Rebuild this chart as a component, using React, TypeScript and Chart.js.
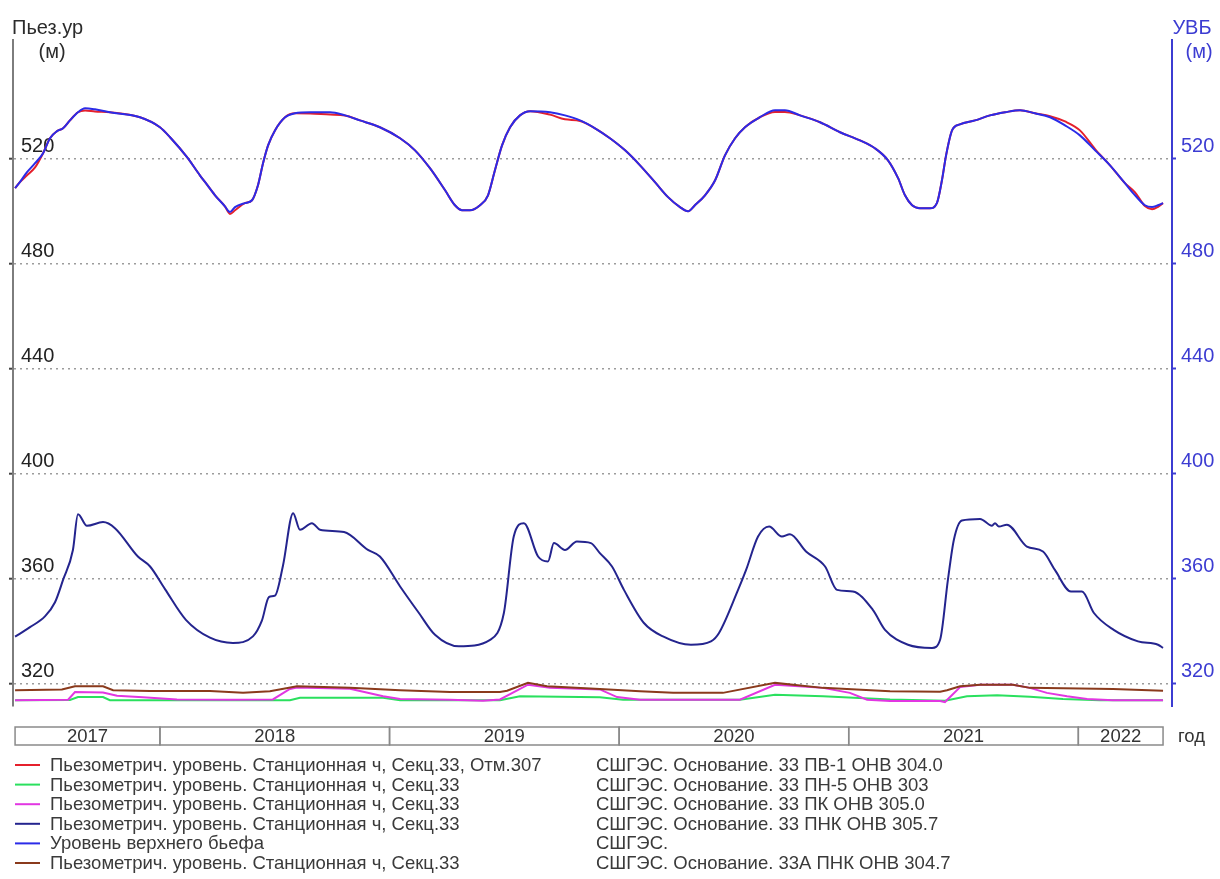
import React, { useEffect, useRef } from "react";
import { Chart, registerables } from "chart.js";

Chart.register(...registerables);

const FONT = '"Liberation Sans", Arial, Helvetica, sans-serif';

// Shared level range of both vertical axes, metres
const levelMin = 311.5;
const levelMax = 565;
const levelTicks = [320, 360, 400, 440, 480, 520];

// Time axis, decimal years
const timeMin = 2017.36;
const timeMax = 2022.408;
const periodStart = 2017.369;
const periodEnd = 2022.369;
const yearLabels = [2017, 2018, 2019, 2020, 2021, 2022];

// Headwater level (УВБ) and the ПВ-1 piezometer share the same sampling dates
const topTimes = [
  2017.369, 2017.390, 2017.421, 2017.456, 2017.491, 2017.521, 2017.552, 2017.578, 2017.608, 2017.643,
  2017.674, 2017.717, 2017.782, 2017.913, 2018.000, 2018.044, 2018.118, 2018.174, 2018.196, 2018.240,
  2018.283, 2018.305, 2018.327, 2018.370, 2018.401, 2018.427, 2018.449, 2018.471, 2018.501, 2018.545,
  2018.588, 2018.654, 2018.741, 2018.806, 2018.871, 2018.958, 2019.046, 2019.111, 2019.176, 2019.242,
  2019.285, 2019.316, 2019.350, 2019.394, 2019.429, 2019.459, 2019.490, 2019.525, 2019.568, 2019.612,
  2019.699, 2019.764, 2019.830, 2019.895, 2019.960, 2020.026, 2020.091, 2020.156, 2020.213, 2020.265,
  2020.300, 2020.330, 2020.374, 2020.418, 2020.461, 2020.505, 2020.548, 2020.613, 2020.679, 2020.722,
  2020.788, 2020.875, 2020.962, 2021.049, 2021.114, 2021.171, 2021.215, 2021.245, 2021.276, 2021.310,
  2021.354, 2021.384, 2021.406, 2021.424, 2021.450, 2021.484, 2021.550, 2021.615, 2021.681, 2021.746,
  2021.811, 2021.877, 2021.942, 2022.007, 2022.073, 2022.138, 2022.203, 2022.247, 2022.290, 2022.321,
  2022.347, 2022.369,
];

const uvbValues = [
  508.6, 510.9, 514.7, 518.1, 521.9, 527.6, 530.3, 531.4, 534.4, 537.5,
  539.0, 538.6, 537.5, 535.6, 531.8, 528.0, 520.4, 513.5, 511.0, 505.9,
  501.7, 499.5, 501.4, 502.9, 504.0, 509.7, 518.1, 524.9, 530.6, 535.6,
  537.1, 537.5, 537.5, 536.3, 534.4, 531.8, 527.6, 523.0, 516.2, 507.8,
  502.1, 500.2, 500.2, 502.1, 505.9, 515.4, 524.9, 531.8, 536.3, 537.9,
  537.5, 536.3, 534.4, 531.4, 527.6, 523.0, 517.3, 510.9, 505.2, 501.4,
  499.8, 502.1, 505.9, 511.6, 521.1, 527.6, 531.8, 535.6, 538.3, 538.3,
  536.3, 533.7, 529.9, 526.8, 523.8, 519.2, 512.4, 505.9, 502.1, 501.0,
  501.0, 502.9, 511.6, 521.1, 530.6, 532.9, 534.4, 536.3, 537.5, 538.3,
  537.1, 535.6, 532.5, 528.7, 523.0, 517.3, 510.5, 505.9, 502.1, 501.4,
  502.1, 502.9,
];

const pv1Values = [
  508.6, 510.9, 513.5, 516.5, 521.9, 527.6, 530.3, 531.4, 534.4, 537.5,
  538.2, 537.8, 537.5, 535.6, 531.8, 528.0, 520.4, 513.5, 511.0, 505.9,
  501.7, 498.8, 500.2, 502.9, 504.0, 509.7, 518.1, 524.9, 530.6, 535.6,
  537.1, 537.0, 536.6, 536.3, 534.4, 531.8, 527.6, 523.0, 516.2, 507.8,
  502.1, 500.2, 500.2, 502.1, 505.9, 515.4, 524.9, 531.8, 536.3, 537.9,
  536.6, 534.8, 534.2, 531.4, 527.6, 523.0, 517.3, 510.9, 505.2, 501.4,
  499.8, 502.1, 505.9, 511.6, 521.1, 527.6, 531.8, 535.6, 537.6, 537.6,
  536.3, 533.7, 529.9, 526.8, 523.8, 519.2, 512.4, 505.9, 502.1, 501.0,
  501.0, 502.9, 511.6, 521.1, 530.6, 532.9, 534.4, 536.3, 537.5, 538.3,
  537.1, 536.0, 534.0, 530.6, 523.5, 517.3, 510.5, 507.0, 501.8, 500.6,
  501.5, 502.9,
];

// 33 ПНК ОНВ 305.7
const pnkTimes = [
  2017.369, 2017.434, 2017.499, 2017.543, 2017.578, 2017.621, 2017.643, 2017.682, 2017.752, 2017.804,
  2017.904, 2017.957, 2018.022, 2018.113, 2018.218, 2018.318, 2018.405, 2018.444, 2018.475, 2018.501,
  2018.536, 2018.580, 2018.610, 2018.662, 2018.697, 2018.802, 2018.906, 2018.958, 2019.046, 2019.128,
  2019.198, 2019.302, 2019.438, 2019.498, 2019.541, 2019.585, 2019.647, 2019.690, 2019.716, 2019.764,
  2019.816, 2019.877, 2019.916, 2019.969, 2020.021, 2020.108, 2020.191, 2020.313, 2020.400, 2020.435,
  2020.518, 2020.553, 2020.605, 2020.653, 2020.709, 2020.744, 2020.814, 2020.897, 2020.949, 2021.018,
  2021.105, 2021.158, 2021.258, 2021.363, 2021.398, 2021.432, 2021.458, 2021.493, 2021.572, 2021.624,
  2021.637, 2021.654, 2021.689, 2021.776, 2021.846, 2021.898, 2021.968, 2022.016, 2022.068, 2022.154,
  2022.260, 2022.347, 2022.369,
];
const pnkValues = [
  337.9, 341.5, 345.6, 351.0, 359.5, 370.9, 384.5, 380.1, 381.5, 379.2,
  368.4, 364.6, 356.0, 344.3, 337.5, 335.5, 338.0, 344.0, 353.0, 353.5,
  365.0, 384.9, 378.6, 381.1, 378.6, 377.7, 370.9, 368.4, 357.0, 346.9,
  338.6, 334.2, 336.7, 346.9, 376.0, 381.1, 368.4, 366.5, 373.5, 370.9,
  374.1, 373.5, 369.7, 364.6, 355.7, 343.1, 338.0, 334.8, 336.1, 339.3,
  355.7, 363.3, 376.0, 379.8, 376.0, 376.9, 370.3, 364.6, 355.7, 355.1,
  348.1, 340.5, 334.8, 333.6, 336.7, 359.5, 374.8, 382.1, 382.7, 380.1,
  381.1, 379.8, 380.5, 372.2, 370.3, 363.3, 355.1, 355.1, 346.9, 340.5,
  336.1, 334.8, 333.6,
];

// 33А ПНК ОНВ 304.7
const pnkATimes = [
  2017.369, 2017.573, 2017.630, 2017.752, 2017.796, 2017.957, 2018.218, 2018.362, 2018.479, 2018.597,
  2018.828, 2019.046, 2019.263, 2019.481, 2019.512, 2019.603, 2019.686, 2019.916, 2020.091, 2020.235,
  2020.452, 2020.679, 2020.888, 2021.180, 2021.398, 2021.428, 2021.485, 2021.572, 2021.715, 2021.789,
  2022.151, 2022.369,
];
const pnkAValues = [
  317.5, 317.8, 319.0, 319.0, 317.5, 317.2, 317.2, 316.5, 317.1, 319.0,
  318.4, 317.5, 316.8, 316.8, 317.3, 320.3, 319.0, 318.0, 317.1, 316.5,
  316.5, 320.3, 318.4, 317.1, 316.9, 317.5, 319.0, 319.6, 319.6, 318.4,
  318.0, 317.3,
];

// 33 ПК ОНВ 305.0
const pkTimes = [
  2017.369, 2017.600, 2017.630, 2017.752, 2017.813, 2017.926, 2018.074, 2018.305, 2018.492, 2018.566,
  2018.597, 2018.828, 2018.972, 2019.046, 2019.263, 2019.407, 2019.481, 2019.603, 2019.699, 2019.916,
  2019.991, 2020.091, 2020.526, 2020.679, 2020.888, 2021.005, 2021.080, 2021.180, 2021.398, 2021.419,
  2021.485, 2021.572, 2021.715, 2021.789, 2021.863, 2021.951, 2022.038, 2022.151, 2022.369,
];
const pkValues = [
  313.7, 313.9, 316.8, 316.6, 315.4, 314.8, 314.0, 313.9, 314.0, 318.0,
  318.5, 318.1, 315.2, 314.2, 313.9, 313.5, 314.0, 319.6, 318.4, 317.8,
  314.9, 313.9, 313.9, 319.6, 318.4, 316.5, 313.9, 313.4, 313.4, 313.0,
  318.7, 319.6, 319.6, 318.4, 316.5, 315.2, 314.2, 313.7, 313.7,
];

// 33 ПН-5 ОНВ 303
const pn5Times = [
  2017.369, 2017.608, 2017.643, 2017.752, 2017.782, 2018.566, 2018.610, 2018.972, 2019.046, 2019.481,
  2019.568, 2019.916, 2020.017, 2020.526, 2020.679, 2020.888, 2021.180, 2021.419, 2021.515, 2021.646,
  2021.789, 2021.933, 2022.094, 2022.369,
];
const pn5Values = [
  313.7, 313.8, 314.9, 314.9, 313.7, 313.7, 314.6, 314.6, 313.7, 313.7,
  315.2, 314.8, 313.9, 313.9, 315.8, 315.2, 314.0, 313.5, 315.2, 315.6,
  315.0, 314.2, 313.7, 313.7,
];

const seriesLabels = [
  "Пьезометрич. уровень. Станционная ч, Секц.33, Отм.307",
  "Пьезометрич. уровень. Станционная ч, Секц.33",
  "Пьезометрич. уровень. Станционная ч, Секц.33",
  "Пьезометрич. уровень. Станционная ч, Секц.33",
  "Уровень верхнего бьефа",
  "Пьезометрич. уровень. Станционная ч, Секц.33",
];
const seriesSources = [
  "СШГЭС. Основание. 33 ПВ-1 ОНВ 304.0",
  "СШГЭС. Основание. 33 ПН-5 ОНВ 303",
  "СШГЭС. Основание. 33 ПК ОНВ 305.0",
  "СШГЭС. Основание. 33 ПНК ОНВ 305.7",
  "СШГЭС.",
  "СШГЭС. Основание. 33А ПНК ОНВ 304.7",
];
const seriesColors = ["#e5202c", "#2ae05e", "#e236e2", "#24248e", "#2b2be8", "#8a3a1c"];

const leftAxisColor = "#7d7d7d";
const rightAxisColor = "#3c3cd2";

const toPoints = (ts: number[], vs: number[]) => ts.map((t, i) => ({ x: t, y: vs[i] }));

const framePlugin = {
  id: "frame",
  afterDraw(chart: any) {
    const { ctx, chartArea } = chart;
    const xs = chart.scales.x;
    ctx.save();

    // axis captions
    ctx.font = `20px ${FONT}`;
    ctx.textBaseline = "middle";
    ctx.fillStyle = "#2b2b2b";
    ctx.textAlign = "left";
    ctx.fillText("Пьез.ур", chartArea.left - 1, 28);
    ctx.textAlign = "center";
    ctx.fillText("(м)", chartArea.left + 39, 52);
    ctx.fillStyle = rightAxisColor;
    ctx.fillText("УВБ", chartArea.right + 20, 28);
    ctx.fillText("(м)", chartArea.right + 27, 52);

    // year strip under the plot
    const stripTop = chartArea.bottom + 21;
    const stripH = 18;
    ctx.strokeStyle = "#8a8a8a";
    ctx.lineWidth = 1.5;
    ctx.font = `18.5px ${FONT}`;
    ctx.fillStyle = "#333";
    yearLabels.forEach((yr) => {
      const a = Math.max(yr, periodStart);
      const b = Math.min(yr + 1, periodEnd);
      if (b <= a) return;
      const x0 = xs.getPixelForValue(a);
      const x1 = xs.getPixelForValue(b);
      ctx.strokeRect(x0, stripTop, x1 - x0, stripH);
      ctx.textAlign = "center";
      ctx.fillText(String(yr), (x0 + x1) / 2, stripTop + stripH / 2 + 1);
    });
    ctx.textAlign = "left";
    ctx.fillText("год", chartArea.right + 6, stripTop + stripH / 2 + 1);

    // two-column legend
    const rowTop = chartArea.bottom + 59;
    const rowStep = 19.6;
    ctx.font = `18.5px ${FONT}`;
    chart.data.datasets.forEach((ds: any, i: number) => {
      const y = rowTop + i * rowStep;
      ctx.strokeStyle = ds.borderColor;
      ctx.lineWidth = 2;
      ctx.beginPath();
      ctx.moveTo(15, y);
      ctx.lineTo(40, y);
      ctx.stroke();
      ctx.fillStyle = "#3a3a3a";
      ctx.textAlign = "left";
      ctx.fillText(ds.label, 50, y + 1);
      ctx.fillText(seriesSources[i], 596, y + 1);
    });
    ctx.restore();
  },
};

export default function App() {
  const canvasRef = useRef<HTMLCanvasElement | null>(null);

  useEffect(() => {
    if (!canvasRef.current) return;
    const common = { borderWidth: 2, pointRadius: 0, fill: false };
    const smooth = { ...common, cubicInterpolationMode: "monotone" };
    const straight = { ...common, tension: 0 };
    const chart = new Chart(canvasRef.current, {
      type: "line",
      data: {
        datasets: [
          { ...smooth, label: seriesLabels[0], data: toPoints(topTimes, pv1Values), borderColor: seriesColors[0], yAxisID: "y", order: 5 },
          { ...straight, label: seriesLabels[1], data: toPoints(pn5Times, pn5Values), borderColor: seriesColors[1], yAxisID: "y", order: 4 },
          { ...straight, label: seriesLabels[2], data: toPoints(pkTimes, pkValues), borderColor: seriesColors[2], yAxisID: "y", order: 3 },
          { ...smooth, label: seriesLabels[3], data: toPoints(pnkTimes, pnkValues), borderColor: seriesColors[3], yAxisID: "y", order: 1 },
          { ...smooth, label: seriesLabels[4], data: toPoints(topTimes, uvbValues), borderColor: seriesColors[4], yAxisID: "y2", order: 0 },
          { ...straight, label: seriesLabels[5], data: toPoints(pnkATimes, pnkAValues), borderColor: seriesColors[5], yAxisID: "y", order: 2 },
        ],
      },
      options: {
        responsive: true,
        maintainAspectRatio: false,
        animation: false,
        events: [],
        layout: { padding: { top: 40, bottom: 173, left: 0, right: 0 } },
        plugins: {
          legend: { display: false },
          tooltip: { enabled: false },
        },
        scales: {
          x: { type: "linear", display: false, min: timeMin, max: timeMax },
          y: {
            position: "left",
            min: levelMin,
            max: levelMax,
            afterBuildTicks: (s: any) => {
              s.ticks = levelTicks.map((v) => ({ value: v }));
            },
            afterFit: (s: any) => {
              s.width = 13;
            },
            grid: { color: "#9c9c9c", lineWidth: 1.4, drawTicks: true, tickLength: 4, tickColor: "#444", tickWidth: 2 },
            border: { display: true, color: leftAxisColor, width: 2, dash: [2, 4] },
            ticks: { mirror: true, padding: 8, labelOffset: -12, color: "#222", font: { family: FONT, size: 20 } },
          },
          y2: {
            position: "right",
            min: levelMin,
            max: levelMax,
            afterBuildTicks: (s: any) => {
              s.ticks = levelTicks.map((v) => ({ value: v }));
            },
            afterFit: (s: any) => {
              s.width = 48;
            },
            grid: { drawOnChartArea: false, drawTicks: true, tickLength: 4, tickColor: rightAxisColor, tickWidth: 2 },
            border: { display: true, color: rightAxisColor, width: 2 },
            ticks: { padding: 5, labelOffset: -12, color: rightAxisColor, font: { family: FONT, size: 20 } },
          },
        },
      },
      plugins: [framePlugin],
    } as any);
    return () => chart.destroy();
  }, []);

  return (
    <div style={{ position: "absolute", left: 0, top: 0, width: 1220, height: 879, background: "#fff" }}>
      <canvas ref={canvasRef} />
    </div>
  );
}
